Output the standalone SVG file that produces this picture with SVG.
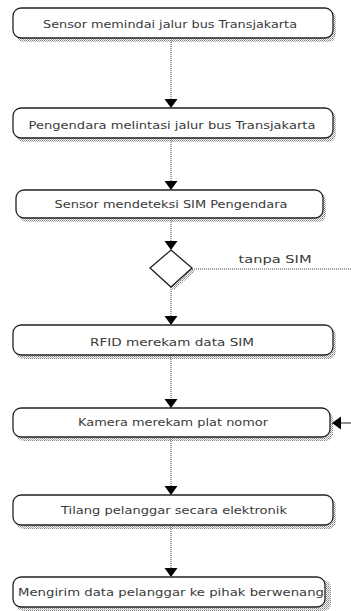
<svg xmlns="http://www.w3.org/2000/svg" width="351" height="611" viewBox="0 0 351 611">
<style>
.node{fill:#ffffff;stroke:#222222;stroke-width:1.3}
.shadow{fill:url(#dots)}
.lbl{font-family:"DejaVu Sans","Liberation Sans",sans-serif;font-size:10px;fill:#3a3a3a;text-anchor:middle}
.edge{fill:none;stroke:#444444;stroke-width:1;stroke-dasharray:1,1}
</style>
<defs>
<pattern id="dots" width="2" height="2" patternUnits="userSpaceOnUse">
<rect x="0" y="0" width="1" height="1" fill="#808080"/>
<rect x="1" y="1" width="1" height="1" fill="#a8a8a8"/>
</pattern>
<marker id="ah" markerUnits="userSpaceOnUse" markerWidth="14" markerHeight="14" viewBox="0 0 14 14" refX="9" refY="6.5" orient="auto" overflow="visible">
<path d="M0,0 L9,6.5 L0,13 Z" fill="#000000"/>
</marker>
</defs>
<g id="connectors">
<line class="edge" x1="171" y1="38" x2="171" y2="108" marker-end="url(#ah)"/>
<line class="edge" x1="171" y1="138" x2="171" y2="190" marker-end="url(#ah)"/>
<line class="edge" x1="171" y1="218" x2="171" y2="250" marker-end="url(#ah)"/>
<line class="edge" x1="171" y1="287" x2="171" y2="325" marker-end="url(#ah)"/>
<line class="edge" x1="171" y1="355" x2="171" y2="408" marker-end="url(#ah)"/>
<line class="edge" x1="171" y1="437" x2="171" y2="495" marker-end="url(#ah)"/>
<line class="edge" x1="171" y1="525" x2="171" y2="577" marker-end="url(#ah)"/>
<line class="edge" x1="192" y1="269" x2="351" y2="269"/>
<line x1="351" y1="423" x2="332" y2="423" stroke="#222222" stroke-width="1" marker-end="url(#ah)"/>
<text class="lbl" x="275" y="263" textLength="73" lengthAdjust="spacingAndGlyphs">tanpa SIM</text>
</g>
<g id="n1">
<rect class="shadow" x="16" y="11" width="320" height="31" rx="8"/>
<rect class="node" x="13" y="8" width="320" height="30" rx="8"/>
<text class="lbl" x="170" y="28" textLength="254" lengthAdjust="spacingAndGlyphs">Sensor memindai jalur bus Transjakarta</text>
</g>
<g id="n2">
<rect class="shadow" x="16" y="111" width="320" height="31" rx="8"/>
<rect class="node" x="13" y="108" width="320" height="30" rx="8"/>
<text class="lbl" x="172" y="129" textLength="287" lengthAdjust="spacingAndGlyphs">Pengendara melintasi jalur bus Transjakarta</text>
</g>
<g id="n3">
<rect class="shadow" x="19" y="193" width="307" height="29" rx="8"/>
<rect class="node" x="16" y="190" width="307" height="28" rx="8"/>
<text class="lbl" x="171" y="208" textLength="233" lengthAdjust="spacingAndGlyphs">Sensor mendeteksi SIM Pengendara</text>
</g>
<g id="decision">
<polygon points="174,253 195,271 174,290 153,271" fill="url(#dots)"/>
<polygon points="171,250 192,268 171,287 150,268" fill="#ffffff" stroke="#222222" stroke-width="1.3"/>
</g>
<g id="n4">
<rect class="shadow" x="16" y="328" width="320" height="31" rx="8"/>
<rect class="node" x="13" y="325" width="320" height="30" rx="8"/>
<text class="lbl" x="172" y="346" textLength="164" lengthAdjust="spacingAndGlyphs">RFID merekam data SIM</text>
</g>
<g id="n5">
<rect class="shadow" x="16" y="411" width="317" height="30" rx="8"/>
<rect class="node" x="13" y="408" width="317" height="29" rx="8"/>
<text class="lbl" x="173" y="426" textLength="190" lengthAdjust="spacingAndGlyphs">Kamera merekam plat nomor</text>
</g>
<g id="n6">
<rect class="shadow" x="16" y="498" width="320" height="31" rx="8"/>
<rect class="node" x="13" y="495" width="320" height="30" rx="8"/>
<text class="lbl" x="174" y="514" textLength="226" lengthAdjust="spacingAndGlyphs">Tilang pelanggar secara elektronik</text>
</g>
<g id="n7">
<rect class="shadow" x="16" y="580" width="315" height="31" rx="8"/>
<rect class="node" x="13" y="577" width="312" height="30" rx="8"/>
<text class="lbl" x="171" y="596" textLength="306" lengthAdjust="spacingAndGlyphs">Mengirim data pelanggar ke pihak berwenang</text>
</g>
</svg>
